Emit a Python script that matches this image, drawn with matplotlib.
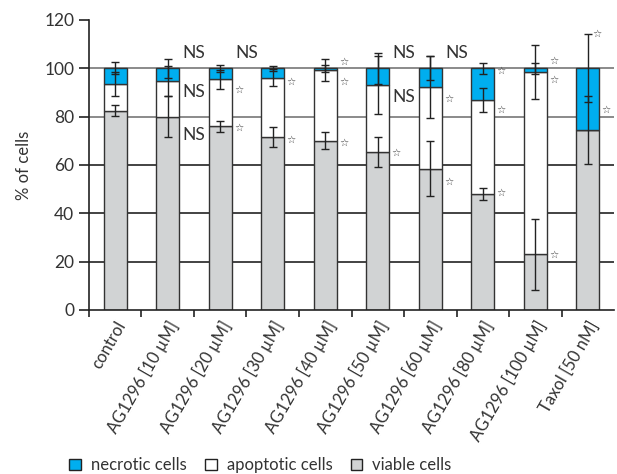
import numpy as np
import matplotlib
matplotlib.use("Agg")
import matplotlib.pyplot as plt
from matplotlib.patches import Patch

plt.rcParams['font.family'] = ['Lato', 'DejaVu Sans']

# data
labels = ['control', 'AG1296 [10 µM]', 'AG1296 [20 µM]', 'AG1296 [30 µM]',
          'AG1296 [40 µM]', 'AG1296 [50 µM]', 'AG1296 [60 µM]',
          'AG1296 [80 µM]', 'AG1296 [100 µM]', 'Taxol [50 nM]']
viable = [82.5, 80.0, 76.0, 71.5, 70.0, 65.5, 58.5, 48.0, 23.0, 74.5]
apoptotic = [11.0, 14.7, 19.4, 24.5, 29.2, 27.5, 33.7, 38.7, 75.5, 0.0]
necrotic = [6.5, 5.3, 4.6, 4.0, 0.8, 7.0, 7.8, 13.3, 1.5, 25.5]
viable_err = [2.3, 8.6, 2.3, 4.0, 3.5, 6.2, 11.4, 2.6, 14.8, 13.9]
apoptotic_err = [5.0, 6.3, 3.8, 3.5, 4.5, 12.0, 12.8, 5.0, 11.2, 0.0]
necrotic_err = [2.5, 4.0, 1.5, 1.0, 1.5, 6.5, 5.0, 2.2, 2.2, 14.0]

# significance marks: (bar index, y value, text)
marks = [(1, 106.5, 'NS'), (1, 90.3, 'NS'), (1, 72.4, 'NS'),
         (2, 106.5, 'NS'), (2, 91.0, '*'), (2, 75.2, '*'),
         (3, 94.5, '*'), (3, 70.6, '*'),
         (4, 102.7, '*'), (4, 94.5, '*'), (4, 69.0, '*'),
         (5, 106.2, 'NS'), (5, 88.0, 'NS'), (5, 65.2, '*'),
         (6, 106.2, 'NS'), (6, 87.2, '*'), (6, 53.1, '*'),
         (7, 98.9, '*'), (7, 82.7, '*'), (7, 48.5, '*'),
         (8, 103.0, '*'), (8, 95.4, '*'), (8, 23.0, '*'),
         (9, 114.2, '*'), (9, 82.7, '*')]

blue = '#00aeef'
grey = '#d1d3d4'
edge = '#333333'
txt = '#333333'

x = np.arange(len(labels))
v = np.array(viable)
a = np.array(apoptotic)
n = np.array(necrotic)

fig = plt.figure(figsize=(6.17, 4.74), dpi=100)
ax = fig.add_axes([0.1442, 0.346, 0.851, 0.612])

w = 0.44
ax.bar(x, v, w, color=grey, edgecolor=edge, linewidth=1, zorder=2)
ax.bar(x, a, w, bottom=v, color='white', edgecolor=edge, linewidth=1, zorder=2)
ax.bar(x, n, w, bottom=v + a, color=blue, edgecolor=edge, linewidth=1, zorder=2)

ekw = dict(fmt='none', ecolor='#222222', elinewidth=1, capsize=3, capthick=1, zorder=3)
ax.errorbar(x, v, yerr=viable_err, **ekw)
has_apo = np.array(apoptotic_err) > 0
ax.errorbar(x[has_apo], (v + a)[has_apo], yerr=np.array(apoptotic_err)[has_apo], **ekw)
ax.errorbar(x, v + a + n, yerr=necrotic_err, **ekw)

for i, y, t in marks:
    if t == 'NS':
        ax.text(i + w / 2 + 0.06, y, t, ha='left', va='center', fontsize=12.5,
                color=txt, zorder=4)
    else:
        xo = i + 0.17 if y > 110 else i + w / 2 + 0.13
        ax.text(xo, y, '\u2606', ha='center', va='center', fontsize=7.5,
                family='DejaVu Sans', color='#444444', zorder=4)

ax.set_ylim(0, 120)
ax.set_xlim(-0.5, len(labels) - 0.5)
ax.set_yticks(np.arange(0, 121, 20))
ax.tick_params(axis='y', labelsize=12.5, length=7, width=1.2, color='#222222',
               labelcolor=txt)
ax.set_xticks(x - 0.5, minor=False)
ax.set_xticklabels([])
ax.set_xticks(x, minor=True)
ax.set_xticklabels(labels, minor=True, rotation=60, ha='right',
                   rotation_mode='anchor', fontsize=12, color=txt)
ax.tick_params(axis='x', which='major', length=5, width=1.2, color='#222222')
ax.tick_params(axis='x', which='minor', length=0, pad=6)

ax.yaxis.grid(True, zorder=0)
ax.set_axisbelow(True)
for val, gl in zip(ax.get_yticks(), ax.get_ygridlines()):
    gl.set_color('#777777' if val in (80, 100) else '#222222')
    gl.set_linewidth(1.2)
    if val in (0, 120):
        gl.set_visible(False)

for s in ['top', 'right']:
    ax.spines[s].set_visible(False)
for s in ['left', 'bottom']:
    ax.spines[s].set_color('#222222')
    ax.spines[s].set_linewidth(1.2)

ax.set_ylabel('% of cells', fontsize=12, color=txt, labelpad=9)

handles = [Patch(facecolor=blue, edgecolor='#222222', label='necrotic cells'),
           Patch(facecolor='white', edgecolor='#222222', label='apoptotic cells'),
           Patch(facecolor=grey, edgecolor='#222222', label='viable cells')]
fig.legend(handles=handles, loc='center', bbox_to_anchor=(0.422, 0.018), ncol=3,
           frameon=False, fontsize=12, handlelength=0.7, handleheight=0.7,
           handletextpad=0.6, columnspacing=1.1, labelcolor=txt)

fig.savefig('out.png', dpi=100)
